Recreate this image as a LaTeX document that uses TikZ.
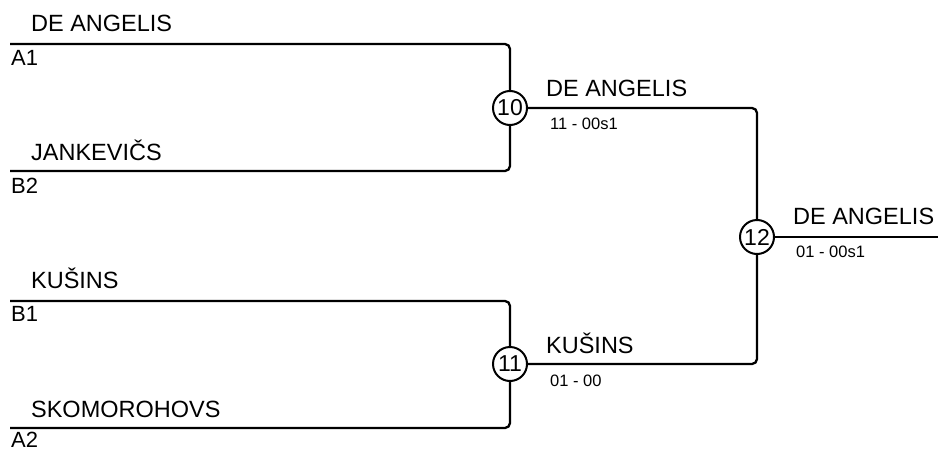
\documentclass[tikz,border=0pt]{standalone}
\usepackage{fontspec}
\setmainfont{Liberation Sans}
\usetikzlibrary{positioning}

\begin{document}
\begin{tikzpicture}[x=1pt,y=-1pt,line width=2.3pt,rounded corners=5pt,
                    player/.style={font=\fontsize{23.5}{23.5}\selectfont,inner sep=0pt,anchor=base west},
                    seed/.style={font=\fontsize{22}{22}\selectfont,inner sep=0pt,anchor=base west},
                    score/.style={font=\fontsize{16.5}{16.5}\selectfont,inner sep=0pt,anchor=base west},
                    match/.style={circle,draw,line width=2pt,minimum size=34pt,inner sep=0pt,
                                  font=\fontsize{23}{23}\selectfont}]

  \useasboundingbox (0,0) rectangle (938,450);

  \coordinate (A1) at (10,44);
  \coordinate (B2) at (10,171);
  \coordinate (B1) at (10,301);
  \coordinate (A2) at (10,428);
  \coordinate (W)  at (938,237);

  \node[match] (m10) at (510,108) {10};
  \node[match] (m11) at (510,364) {11};
  \node[match] (m12) at (757,237) {12};

  \node[player] (pA1) at (30,31)  {DE ANGELIS};
  \node[player] (pB2) at (30,160) {JANKEVIČS};
  \node[player] (pB1) at (30,288) {KUŠINS};
  \node[player] (pA2) at (30,417) {SKOMOROHOVS};

  \node[seed] (sA1) at (10,65)  {A1};
  \node[seed] (sB2) at (10,193) {B2};
  \node[seed] (sB1) at (10,321) {B1};
  \node[seed] (sA2) at (10,447) {A2};

  \node[player] (w10) at (545,96)  {DE ANGELIS};
  \node[player] (w11) at (545,353) {KUŠINS};
  \node[player] (w12) at (792,224) {DE ANGELIS};

  \node[score] (r10) at (549,129) {11 - 00s1};
  \node[score] (r11) at (549,386) {01 - 00};
  \node[score] (r12) at (795,257) {01 - 00s1};

  \draw (A1) -| (m10);
  \draw (B2) -| (m10);
  \draw (B1) -| (m11);
  \draw (A2) -| (m11);
  \draw (m10) -| (m12);
  \draw (m11) -| (m12);
  \draw (m12) -- (W);
\end{tikzpicture}
\end{document}
